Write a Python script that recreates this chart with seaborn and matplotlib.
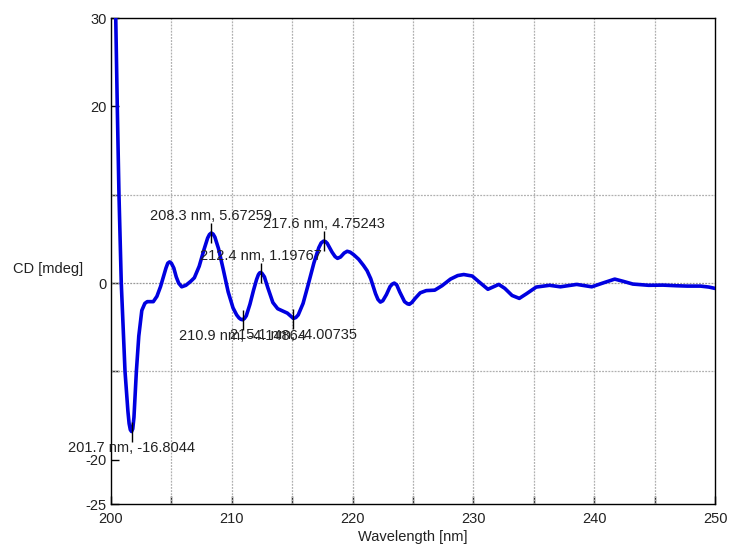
import numpy as np
import pandas as pd
import matplotlib
matplotlib.use("Agg")
import matplotlib.pyplot as plt
import seaborn as sns

# wavelength (nm) and CD (mdeg)
wavelength = [200.38, 200.52, 200.66, 200.85, 201.16, 201.4, 201.5, 201.6, 201.7, 201.8,
              201.9, 202.1, 202.3, 202.55, 202.8, 203.0, 203.5, 203.8, 204.1, 204.4,
              204.55, 204.7, 204.85, 205.0, 205.2, 205.4, 205.6, 205.85, 206.2, 206.6,
              206.9, 207.3, 207.7, 208.0, 208.15, 208.3, 208.45, 208.6, 208.9, 209.3,
              209.7, 210.1, 210.4, 210.6, 210.75, 210.9, 211.05, 211.2, 211.5, 211.8,
              212.05, 212.2, 212.3, 212.4, 212.5, 212.7, 213.0, 213.4, 213.8, 214.2,
              214.6, 214.85, 215.1, 215.3, 215.5, 215.9, 216.3, 216.8, 217.2, 217.4,
              217.6, 217.75, 217.9, 218.3, 218.55, 218.75, 219.0, 219.3, 219.55, 219.8,
              220.1, 220.5, 220.9, 221.2, 221.5, 221.9, 222.1, 222.3, 222.5, 222.8,
              223.1, 223.3, 223.45, 223.65, 223.9, 224.3, 224.55, 224.7, 224.9, 225.2,
              225.6, 226.1, 226.8, 227.4, 228.1, 228.7, 229.2, 229.9, 230.5, 231.2,
              231.6, 232.1, 232.6, 233.2, 233.8, 234.4, 235.2, 236.3, 237.2, 238.55,
              239.8, 240.7, 241.7, 242.4, 243.2, 244.5, 245.7, 246.8, 247.7, 248.8,
              249.5, 250.0]
cd_mdeg = [31.0, 20.0, 10.0, 0.0, -10.0, -14.5, -15.9, -16.6, -16.80, -16.5,
           -15.2, -10.0, -6.0, -3.1, -2.3, -2.1, -2.1, -1.5, -0.4, 1.0,
           1.7, 2.25, 2.4, 2.25, 1.7, 0.7, 0.0, -0.42, -0.25, 0.2,
           0.6, 1.9, 3.8, 5.1, 5.5, 5.67, 5.55, 5.2, 3.9, 1.5,
           -1.0, -2.8, -3.6, -3.95, -4.1, -4.15, -4.0, -3.7, -2.4, -0.8,
           0.4, 0.95, 1.15, 1.2, 1.1, 0.7, -0.6, -2.2, -2.9, -3.15,
           -3.4, -3.7, -4.0, -3.9, -3.6, -2.3, -0.3, 2.3, 4.0, 4.55,
           4.75, 4.7, 4.5, 3.5, 3.0, 2.8, 2.95, 3.4, 3.6, 3.5,
           3.2, 2.7, 2.0, 1.4, 0.5, -1.2, -1.85, -2.15, -2.0, -1.3,
           -0.4, -0.1, 0.0, -0.2, -1.0, -2.1, -2.35, -2.4, -2.2, -1.7,
           -1.1, -0.85, -0.8, -0.3, 0.45, 0.85, 0.97, 0.8, 0.1, -0.7,
           -0.45, -0.15, -0.6, -1.4, -1.73, -1.2, -0.45, -0.25, -0.42, -0.15,
           -0.42, 0.0, 0.45, 0.2, -0.11, -0.25, -0.23, -0.3, -0.34, -0.34,
           -0.45, -0.6]

# annotated extrema
ann_x = [201.7, 208.3, 210.9, 212.4, 215.1, 217.6]
ann_y = [-16.8044, 5.67259, -4.14864, 1.19767, -4.00735, 4.75243]
ann_text = ["201.7 nm, -16.8044", "208.3 nm, 5.67259", "210.9 nm, -4.14864",
            "212.4 nm, 1.19767", "215.1 nm, -4.00735", "217.6 nm, 4.75243"]
ann_is_peak = [False, True, False, True, False, True]

ytick_vals = [-25, -20, -10, 0, 10, 20, 30]
ytick_labels = ["-25", "-20", "", "0", "", "20", "30"]
xtick_major = [200, 210, 220, 230, 240, 250]
xtick_minor = [205, 215, 225, 235, 245]

sns.set_theme(style="white")
plt.rcParams["font.family"] = ["Liberation Sans", "DejaVu Sans"]

fig = plt.figure(figsize=(7.32, 5.48), dpi=100)
ax = fig.add_axes([111 / 732, 1 - 504 / 548, 604 / 732, 486 / 548])

df = pd.DataFrame({"Wavelength": wavelength, "CD": cd_mdeg})
sns.lineplot(data=df, x="Wavelength", y="CD", ax=ax, color="#0000e0",
             linewidth=2.6, sort=False, zorder=3,
             solid_joinstyle="round", solid_capstyle="round")

ax.set_xlim(200, 250)
ax.set_ylim(-25, 30)

ax.set_xticks(xtick_major)
ax.set_xticks(xtick_minor, minor=True)
ax.set_yticks(ytick_vals)
ax.set_yticklabels(ytick_labels)

ax.tick_params(axis="both", which="both", direction="in", length=6, width=1,
               color="black", labelsize=10.5, labelcolor="#222222")
ax.tick_params(axis="x", which="both", pad=6)
ax.tick_params(axis="y", which="both", pad=3)
ax.tick_params(axis="both", which="both", top=False, right=False, bottom=True, left=True)

ax.grid(False)
for xv in xtick_major[1:-1] + xtick_minor:
    ax.axvline(xv, color="#b0b0b0", linestyle=(0, (1.5, 1.0)), linewidth=0.9, zorder=1)
for yv in [-10, 0, 10]:
    ax.axhline(yv, color="#999999" if yv == 0 else "#b0b0b0",
               linestyle=(0, (1.5, 1.0)), linewidth=0.9, zorder=1)

for sp in ax.spines.values():
    sp.set_visible(True)
    sp.set_color("black")
    sp.set_linewidth(1.0)

ax.set_xlabel("Wavelength [nm]", fontsize=10.5, color="#222222")
ax.xaxis.set_label_coords(0.5, -0.068)
ax.xaxis.label.set_va("center")
ax.set_ylabel("CD [mdeg]", fontsize=10.5, color="#222222", rotation=0,
              ha="left", va="center")
ax.yaxis.set_label_coords(-0.162, 0.4835)

for x, y, t, peak in zip(ann_x, ann_y, ann_text, ann_is_peak):
    ax.plot([x], [y], marker="|", markersize=14, markeredgewidth=1,
            color="black", zorder=4)
    ax.annotate(t, xy=(x, y), xytext=(0, 7 if peak else -7),
                textcoords="offset points", ha="center",
                va="bottom" if peak else "top", fontsize=10.5,
                color="#222222", zorder=5)

fig.savefig("out.png", dpi=100)
